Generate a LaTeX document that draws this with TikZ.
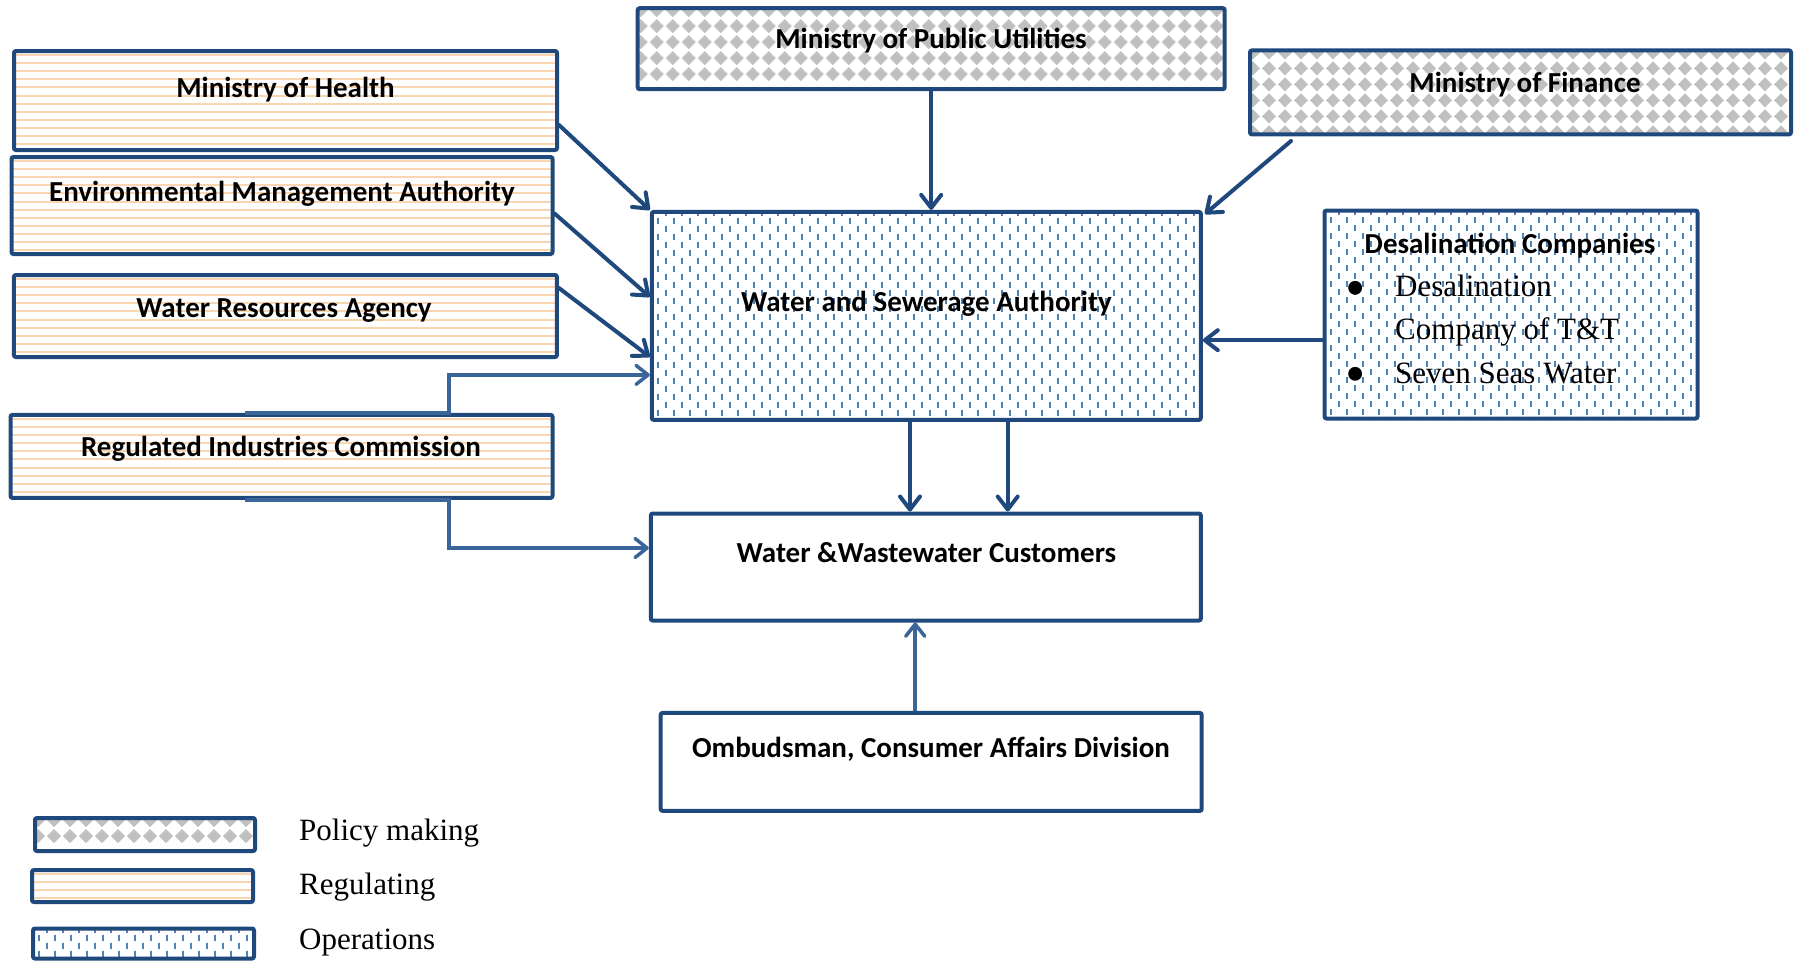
\documentclass[tikz,border=0pt]{standalone}
\usepackage{fontspec}
\newfontfamily\calfont{Carlito}
\newfontfamily\tnrfont{Liberation Serif}
\usetikzlibrary{arrows.meta}
\definecolor{navy}{RGB}{31,73,125}
\definecolor{navylt}{RGB}{58,101,153}
\definecolor{peach}{RGB}{250,214,176}
\definecolor{opsblue}{RGB}{79,129,189}
\definecolor{polgray}{RGB}{192,192,192}
\newcommand\getbb{%
  \pgftransformreset
  \path (path picture bounding box.south west); \pgfgetlastxy{\pxa}{\pya}%
  \path (path picture bounding box.north east); \pgfgetlastxy{\pxb}{\pyb}%
  \pgfmathsetmacro\Xa{\pxa}\pgfmathsetmacro\Xb{\pxb}%
  \pgfmathsetmacro\Ya{\pya}\pgfmathsetmacro\Yb{\pyb}%
}
\tikzset{
  boxbase/.style={draw=navy, line width=4pt, rounded corners=2pt, inner sep=0pt, fill=white, rectangle},
  regbox/.style={boxbase, path picture={\getbb
      \pgfmathsetmacro\Ys{\Yb-4}\pgfmathsetmacro\Yt{\Yb-12.1}%
      \foreach \yy in {\Ys,\Yt,...,\Ya} {\draw[peach,line width=2pt,sharp corners] (\Xa pt,\yy pt) -- (\Xb pt,\yy pt);}
  }},
  opsbox/.style={boxbase, path picture={\getbb
      \pgfmathsetmacro\Xs{\Xa+6}\pgfmathsetmacro\Xt{\Xa+22}%
      \foreach \xx in {\Xs,\Xt,...,\Xb} {
        \draw[opsblue,line width=2pt,sharp corners,dash pattern=on 6.5pt off 9.5pt,dash phase=-6pt] (\xx pt,\Yb pt) -- (\xx pt,\Ya pt);
        \draw[opsblue,line width=2pt,sharp corners,dash pattern=on 6.5pt off 9.5pt,dash phase=2pt] (\xx pt+8pt,\Yb pt) -- (\xx pt+8pt,\Ya pt);
      }
  }},
  polbox/.style={boxbase, path picture={\getbb
      \pgfmathsetmacro\Xs{\Xa+3}\pgfmathsetmacro\Xt{\Xa+19}%
      \pgfmathsetmacro\Ys{\Yb-2}\pgfmathsetmacro\Yt{\Yb-18}%
      \fill[polgray,sharp corners] \foreach \xx in {\Xs,\Xt,...,\Xb} { \foreach \yy in {\Ys,\Yt,...,\Ya} {
          (\xx pt,\yy pt) +(-7pt,0pt) -- +(0pt,7pt) -- +(7pt,0pt) -- +(0pt,-7pt) -- cycle
      }};
  }},
  plainbox/.style={boxbase},
  lbl/.style={font=\calfont\bfseries\fontsize{29}{34}\selectfont, inner sep=0pt},
  serif/.style={font=\tnrfont\fontsize{31}{36}\selectfont, inner sep=0pt},
  bul/.style={font=\tnrfont\fontsize{58}{60}\selectfont, inner sep=0pt},
  conn/.style={draw=navy, line width=4pt, line cap=round, line join=round, -{Straight Barb[length=13pt,width=20pt,round]}},
  connlt/.style={draw=navylt, line width=3.5pt, line join=miter, -{Straight Barb[length=12pt,width=19pt,round]}},
}
\begin{document}
\begin{tikzpicture}[x=1pt,y=-1pt]
\useasboundingbox (0,0) rectangle (1798,961);

% boxes
\node[polbox, minimum width=587pt, minimum height=81pt] (mpu) at (931.2,48.7) {};
\node[polbox, minimum width=541pt, minimum height=84pt] (fin) at (1520.5,92.4) {};
\node[regbox, minimum width=543pt, minimum height=99pt] (health) at (285.5,100.5) {};
\node[regbox, minimum width=541pt, minimum height=97pt] (ema) at (282,205.5) {};
\node[regbox, minimum width=543pt, minimum height=82pt] (wra) at (285.4,316) {};
\node[regbox, minimum width=542pt, minimum height=83pt] (ric) at (281.5,456.4) {};
\node[opsbox, minimum width=549pt, minimum height=208pt] (wasa) at (926.3,315.9) {};
\node[opsbox, minimum width=373pt, minimum height=208pt] (desal) at (1511,314.5) {};
\node[plainbox, minimum width=550pt, minimum height=107pt] (cust) at (925.8,567) {};
\node[plainbox, minimum width=541pt, minimum height=98pt] (omb) at (931.2,761.9) {};

% legend boxes
\node[polbox, minimum width=220pt, minimum height=33pt] (legpol) at (145,834.5) {};
\node[regbox, minimum width=221pt, minimum height=32pt] (legreg) at (142.5,886) {};
\node[opsbox, minimum width=221pt, minimum height=30pt] (legops) at (143.5,943.5) {};

% texts
\node[lbl] (mpu-t) at (931,40.5) {Ministry of Public Utilities};
\node[lbl] (fin-t) at (1525,84.5) {Ministry of Finance};
\node[lbl] (health-t) at (285.5,89.5) {Ministry of Health};
\node[lbl] (ema-t) at (282,193.5) {Environmental Management Authority};
\node[lbl] (wra-t) at (284,310.5) {Water Resources Agency};
\node[lbl] (ric-t) at (281,448.5) {Regulated Industries Commission};
\node[lbl] (wasa-t) at (926.5,303.5) {Water and Sewerage Authority};
\node[lbl] (desal-t) at (1510,245.5) {Desalination Companies};
\node[lbl] (cust-t) at (926.5,553) {Water \&Wastewater Customers};
\node[lbl] (omb-t) at (931,749) {Ombudsman, Consumer Affairs Division};

\node[bul, anchor=center] (desal-b1) at (1356,294) {\textbullet};
\node[bul, anchor=center] (desal-b2) at (1356,380) {\textbullet};
\node[serif, anchor=base west] (desal-l1) at (1395,296) {Desalination};
\node[serif, anchor=base west] (desal-l2) at (1395,339) {Company of T\&T};
\node[serif, anchor=base west] (desal-l3) at (1395,383) {Seven Seas Water};

\node[serif, anchor=base west] (legpol-t) at (299,840) {Policy making};
\node[serif, anchor=base west] (legreg-t) at (299,894) {Regulating};
\node[serif, anchor=base west] (legops-t) at (299,949) {Operations};

% connector end points
\coordinate (finA) at (1291,141);
\coordinate (finB) at (1205,214);

% connectors
\draw[conn] (mpu.south) -- (mpu.south |- wasa.north);
\draw[conn] (finA) -- (finB);
\draw[conn] ([yshift=-24.5pt]health.east) -- (wasa.north west);
\draw[conn] ([yshift=-8pt]ema.east) -- ([yshift=19pt]wasa.west);
\draw[conn] ([yshift=28pt]wra.east) -- ([yshift=-41pt]wasa.west);
\draw[conn] ([yshift=-25.7pt]desal.west) -- ([yshift=-25.7pt]desal.west -| wasa.east);
\draw[conn] ([xshift=-16.3pt]wasa.south) -- ([xshift=-16.3pt]wasa.south |- cust.north);
\draw[conn] ([xshift=81.4pt]wasa.south) -- ([xshift=81.4pt]wasa.south |- cust.north);
\draw[connlt] ([xshift=-16pt]omb.north) -- ([xshift=-16pt]omb.north |- cust.south);
\draw[connlt] ([xshift=-36.5pt]ric.north) -- ([xshift=167.5pt]ric.north) |- ([yshift=-59pt]wasa.west);
\draw[connlt] ([xshift=-36.5pt]ric.south) -- ([xshift=167.5pt]ric.south) |- ([yshift=19pt]cust.west);
\end{tikzpicture}
\end{document}
